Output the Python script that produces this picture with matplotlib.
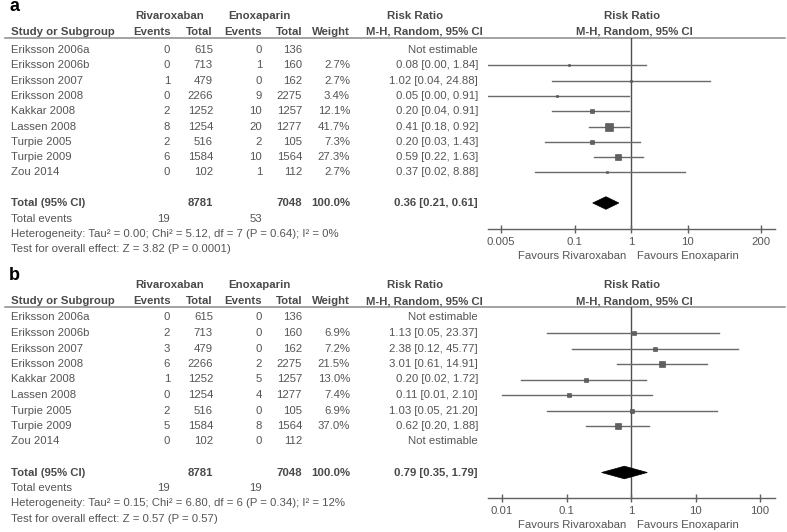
import numpy as np
import matplotlib
matplotlib.use("Agg")
import matplotlib.pyplot as plt
from matplotlib.patches import Polygon

plt.rcParams['font.family'] = ['Liberation Sans', 'DejaVu Sans']

# ---------------- data ----------------
studies = ['Eriksson 2006a', 'Eriksson 2006b', 'Eriksson 2007', 'Eriksson 2008',
           'Kakkar 2008', 'Lassen 2008', 'Turpie 2005', 'Turpie 2009', 'Zou 2014']
riva_total = [615, 713, 479, 2266, 1252, 1254, 516, 1584, 102]
enox_total = [136, 160, 162, 2275, 1257, 1277, 105, 1564, 112]

a_riva_events = [0, 0, 1, 0, 2, 8, 2, 6, 0]
a_enox_events = [0, 1, 0, 9, 10, 20, 2, 10, 1]
a_weight = [None, 2.7, 2.7, 3.4, 12.1, 41.7, 7.3, 27.3, 2.7]
a_rr = [None, 0.08, 1.02, 0.05, 0.20, 0.41, 0.20, 0.59, 0.37]
a_lo = [None, 0.00, 0.04, 0.00, 0.04, 0.18, 0.03, 0.22, 0.02]
a_hi = [None, 1.84, 24.88, 0.91, 0.91, 0.92, 1.43, 1.63, 8.88]
a_overall = (0.36, 0.21, 0.61)
a_total_weight = 100.0
a_het = "Heterogeneity: Tau\u00b2 = 0.00; Chi\u00b2 = 5.12, df = 7 (P = 0.64); I\u00b2 = 0%"
a_test = "Test for overall effect: Z = 3.82 (P = 0.0001)"
a_ticks = [0.005, 0.1, 1, 10, 200]
a_ticklabels = ['0.005', '0.1', '1', '10', '200']

b_riva_events = [0, 2, 3, 6, 1, 0, 2, 5, 0]
b_enox_events = [0, 0, 0, 2, 5, 4, 0, 8, 0]
b_weight = [None, 6.9, 7.2, 21.5, 13.0, 7.4, 6.9, 37.0, None]
b_rr = [None, 1.13, 2.38, 3.01, 0.20, 0.11, 1.03, 0.62, None]
b_lo = [None, 0.05, 0.12, 0.61, 0.02, 0.01, 0.05, 0.20, None]
b_hi = [None, 23.37, 45.77, 14.91, 1.72, 2.10, 21.20, 1.88, None]
b_overall = (0.79, 0.35, 1.79)
b_total_weight = 100.0
b_het = "Heterogeneity: Tau\u00b2 = 0.15; Chi\u00b2 = 6.80, df = 6 (P = 0.34); I\u00b2 = 12%"
b_test = "Test for overall effect: Z = 0.57 (P = 0.57)"
b_ticks = [0.01, 0.1, 1, 10, 100]
b_ticklabels = ['0.01', '0.1', '1', '10', '100']

# ---------------- layout ----------------
W, H = 787, 532
fig = plt.figure(figsize=(W / 100, H / 100), dpi=100)
tax = fig.add_axes([0, 0, 1, 1])
tax.set_xlim(0, W)
tax.set_ylim(H, 0)
tax.axis('off')

FS = 8.2
TXT = '#555555'
HDR = '#4a4a4a'
LINE = '#6a6a6a'
SQ = '#606060'


def panel(label, top, row0, dy, riva_ev, enox_ev, weight, rr, lo, hi, overall, tw,
          het, test, ticks, ticklabels, decade_px, axis_y):
    # panel label
    tax.text(9, top + 5, label, fontsize=13, fontweight='bold', color='black',
             ha='left', va='baseline')
    # header rows
    h1 = top + 10
    h2 = top + 26
    tax.text(135, h1, 'Rivaroxaban', fontsize=FS, fontweight='bold', color=HDR, ha='left', va='center')
    tax.text(228, h1, 'Enoxaparin', fontsize=FS, fontweight='bold', color=HDR, ha='left', va='center')
    tax.text(415, h1, 'Risk Ratio', fontsize=FS, fontweight='bold', color=HDR, ha='center', va='center')
    tax.text(632, h1, 'Risk Ratio', fontsize=FS, fontweight='bold', color=HDR, ha='center', va='center')
    tax.text(11, h2, 'Study or Subgroup', fontsize=FS, fontweight='bold', color=HDR, ha='left', va='center')
    for x, s in [(171, 'Events'), (213, 'Total'), (262, 'Events'), (302, 'Total'),
                 (350, 'Weight'), (483, 'M-H, Random, 95% CI')]:
        tax.text(x, h2, s, fontsize=FS, fontweight='bold', color=HDR, ha='right', va='center')
    tax.text(634, h2, 'M-H, Random, 95% CI', fontsize=FS, fontweight='bold', color=HDR,
             ha='center', va='center')
    line_y = h2 + 5.5
    tax.plot([5, 785], [line_y, line_y], color='#8a8a8a', lw=1.1)

    rows = [row0 + dy * i for i in range(len(studies))]
    for i, y in enumerate(rows):
        tax.text(11, y, studies[i], fontsize=FS, color=TXT, ha='left', va='center')
        tax.text(170, y, str(riva_ev[i]), fontsize=FS, color=TXT, ha='right', va='center')
        tax.text(213, y, str(riva_total[i]), fontsize=FS, color=TXT, ha='right', va='center')
        tax.text(262, y, str(enox_ev[i]), fontsize=FS, color=TXT, ha='right', va='center')
        tax.text(302, y, str(enox_total[i]), fontsize=FS, color=TXT, ha='right', va='center')
        if weight[i] is not None:
            tax.text(350, y, f'{weight[i]:.1f}%', fontsize=FS, color=TXT, ha='right', va='center')
        if rr[i] is None:
            s = 'Not estimable'
        else:
            s = f'{rr[i]:.2f} [{lo[i]:.2f}, {hi[i]:.2f}]'
        tax.text(478, y, s, fontsize=FS, color=TXT, ha='right', va='center')

    ty = row0 + dy * 10
    tax.text(11, ty, 'Total (95% CI)', fontsize=FS, fontweight='bold', color=HDR, ha='left', va='center')
    tax.text(213, ty, str(sum(riva_total)), fontsize=FS, fontweight='bold', color=HDR, ha='right', va='center')
    tax.text(302, ty, str(sum(enox_total)), fontsize=FS, fontweight='bold', color=HDR, ha='right', va='center')
    tax.text(350, ty, f'{tw:.1f}%', fontsize=FS,
             fontweight='bold', color=HDR, ha='right', va='center')
    tax.text(478, ty, f'{overall[0]:.2f} [{overall[1]:.2f}, {overall[2]:.2f}]', fontsize=FS,
             fontweight='bold', color=HDR, ha='right', va='center')
    tax.text(11, ty + 15.5, 'Total events', fontsize=FS, color=TXT, ha='left', va='center')
    tax.text(170, ty + 15.5, str(sum(riva_ev)), fontsize=FS, color=TXT, ha='right', va='center')
    tax.text(262, ty + 15.5, str(sum(enox_ev)), fontsize=FS, color=TXT, ha='right', va='center')
    tax.text(11, ty + 31, het, fontsize=FS, color=TXT, ha='left', va='center')
    tax.text(11, ty + 46, test, fontsize=FS, color=TXT, ha='left', va='center')

    # forest axes in pixel-y coordinates
    x0, x1, xone = 488, 775, 631
    ax = fig.add_axes([x0 / W, 1 - axis_y / H, (x1 - x0) / W, (axis_y - line_y) / H])
    ax.set_xscale('log')
    xmin = 10 ** ((x0 - xone) / decade_px)
    xmax = 10 ** ((x1 - xone) / decade_px)
    ax.set_xlim(xmin, xmax)
    ax.set_ylim(axis_y, line_y)
    ax.patch.set_alpha(0)
    for sp in ['top', 'left', 'right']:
        ax.spines[sp].set_visible(False)
    ax.spines['bottom'].set_color('#606060')
    ax.spines['bottom'].set_linewidth(1.0)
    ax.set_yticks([])
    ax.set_xticks(ticks)
    ax.set_xticklabels(ticklabels)
    ax.minorticks_off()
    ax.tick_params(axis='x', direction='inout', length=6, width=1, colors='#606060',
                   labelsize=FS, labelcolor=TXT, pad=3)
    ax.axvline(1, color='#505050', lw=1.0, zorder=1)

    for i, y in enumerate(rows):
        if rr[i] is None:
            continue
        l = max(lo[i], xmin)
        ax.plot([l, hi[i]], [y, y], color=LINE, lw=1.0, zorder=2, clip_on=True)
        side = max(1.7, 1.15 * np.sqrt(weight[i])) * 0.72
        ax.plot([rr[i]], [y], marker='s', markersize=side, color=SQ,
                markeredgecolor='#4a4a4a', markeredgewidth=0.4, zorder=3)
    # diamond
    hh = 6.3
    diamond = Polygon([[overall[1], ty], [overall[0], ty - hh], [overall[2], ty],
                       [overall[0], ty + hh]], closed=True, facecolor='black',
                      edgecolor='black', lw=0.5, zorder=4)
    ax.add_patch(diamond)

    fy = axis_y + 27
    tax.text(xone - 5, fy, 'Favours Rivaroxaban', fontsize=FS, color=TXT, ha='right', va='center')
    tax.text(xone + 6, fy, 'Favours Enoxaparin', fontsize=FS, color=TXT, ha='left', va='center')


panel('a', 6, 50, 15.3, a_riva_events, a_enox_events, a_weight, a_rr, a_lo, a_hi,
      a_overall, a_total_weight, a_het, a_test, a_ticks, a_ticklabels, 56.5, 229)
panel('b', 275, 317.5, 15.5, b_riva_events, b_enox_events, b_weight, b_rr, b_lo, b_hi,
      b_overall, b_total_weight, b_het, b_test, b_ticks, b_ticklabels, 64.5, 498)

fig.savefig('out.png', dpi=100)
